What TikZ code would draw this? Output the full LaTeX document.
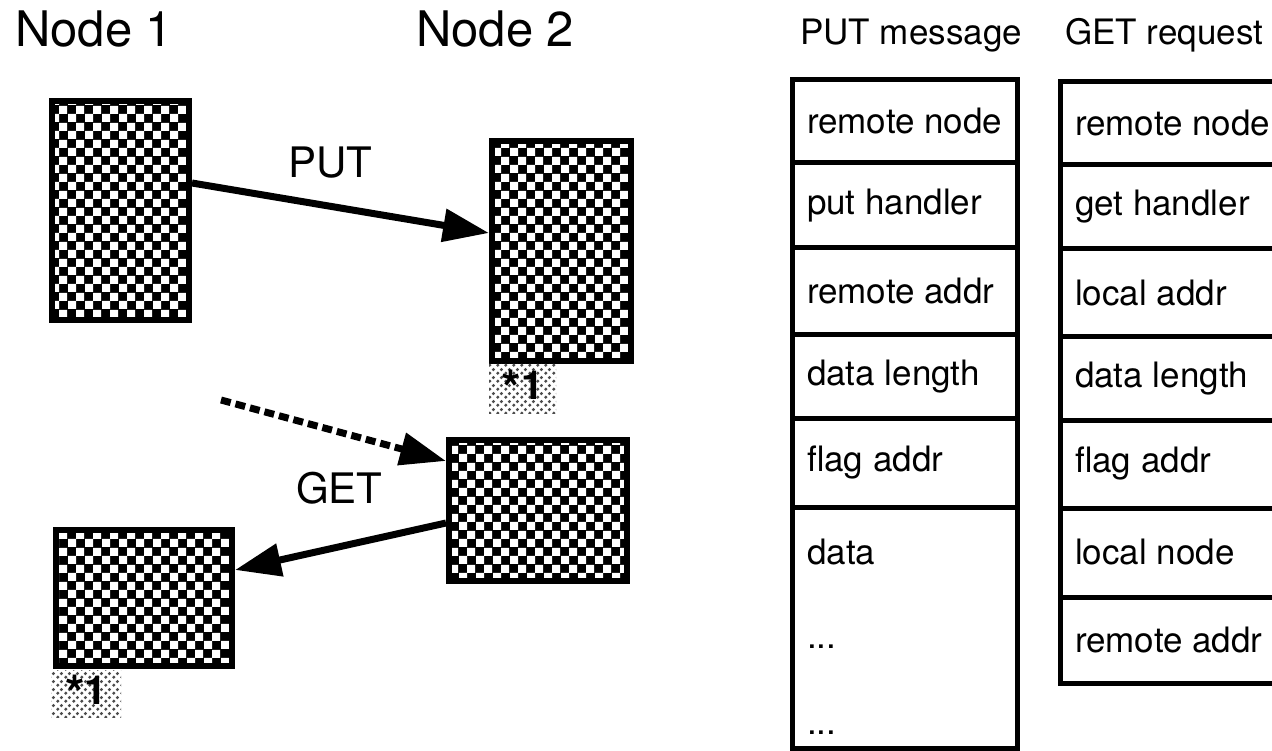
\documentclass[tikz,border=0pt]{standalone}
\usepackage{fontspec}
\setmainfont{TeX Gyre Heros}
\usetikzlibrary{arrows.meta,patterns}

% white squares on a black ground: a checkerboard screen
\pgfdeclarepatternformonly{checks}{\pgfqpoint{0pt}{0pt}}{\pgfqpoint{17pt}{17pt}}{\pgfqpoint{17pt}{17pt}}{%
  \pgfpathrectangle{\pgfqpoint{0pt}{0pt}}{\pgfqpoint{8.5pt}{8.5pt}}%
  \pgfpathrectangle{\pgfqpoint{8.5pt}{8.5pt}}{\pgfqpoint{8.5pt}{8.5pt}}%
  \pgfusepath{fill}}
% sparse halftone dots
\pgfdeclarepatternformonly{halftone}{\pgfqpoint{0pt}{0pt}}{\pgfqpoint{8pt}{8pt}}{\pgfqpoint{8pt}{8pt}}{%
  \pgfpathcircle{\pgfqpoint{2pt}{2pt}}{1.9pt}%
  \pgfpathcircle{\pgfqpoint{6pt}{6pt}}{1.9pt}%
  \pgfusepath{fill}}

\newcommand{\bigfont}{\fontsize{49}{54}\selectfont}
\newcommand{\lblfont}{\fontsize{42}{46}\selectfont}
\newcommand{\tabfont}{\fontsize{35}{40}\selectfont}
\newcommand{\cellbox}[1]{\makebox[195pt][l]{#1}}
\newcommand{\flagtext}{\raisebox{-7pt}{\fontsize{50}{50}\selectfont *}1}

\begin{document}
\begin{tikzpicture}[x=1pt,y=-1pt,
  memblock/.style={draw=black, line width=6pt, rectangle, anchor=north west,
    preaction={fill=black}, pattern=checks, pattern color=white, inner sep=0pt},
  mark1/.style={rectangle, anchor=north west, pattern=halftone, pattern color=black!70,
    inner sep=0pt, text=black, font=\fontsize{40}{44}\selectfont\bfseries},
  conn/.style={line width=7pt, -{Triangle[length=46pt,width=32pt]}},
  dashconn/.style={conn, dash pattern=on 10pt off 5pt},
  cell/.style={draw=black, line width=5pt, rectangle, anchor=north west,
    minimum height=#1, minimum width=225pt, inner xsep=15pt, inner ysep=0pt,
    outer sep=0pt, font=\tabfont},
  celltext/.style={anchor=west, inner xsep=15pt, inner ysep=0pt, font=\tabfont},
  title/.style={anchor=base west, inner sep=0pt}]

\useasboundingbox (0,0) rectangle (1272,751);
\fill[white] (0,0) rectangle (1272,751);
\clip (0,0) rectangle (1272,751);

% node titles
\node[title, font=\bigfont] (n1) at (15,47) {Node 1};
\node[title, font=\bigfont] (n2) at (416,47) {Node 2};

% memory blocks
\node[memblock, minimum width=137pt, minimum height=219pt] (A) at (49,98) {};
\node[memblock, minimum width=139pt, minimum height=220pt] (B) at (489,138) {};
\node[memblock, minimum width=178pt, minimum height=141pt] (C) at (446,437) {};
\node[memblock, minimum width=176pt, minimum height=136pt] (D) at (53,527) {};

% completion flags
\node[mark1, minimum width=67pt, minimum height=50pt] (fB) at (489,363) {\flagtext};
\node[mark1, minimum width=70pt, minimum height=47pt] (fD) at (51,670) {\flagtext};

% PUT transfer
\draw[conn] ([yshift=27.5pt]A.east) -- ([yshift=18pt]B.west);
\node[title, font=\lblfont] (put) at (288,178) {PUT};

% GET request and reply
\coordinate (req) at (221,400);
\draw[dashconn] (req) -- ([yshift=49.5pt]C.west);
\draw[conn] ([yshift=-12.5pt]C.west) -- ([yshift=28pt]D.east);
\node[title, font=\lblfont] (get) at (296,503) {GET};

% PUT message layout
\node[title, font=\tabfont] (hput) at (800,45) {PUT message};
\node[cell=83pt] (p1) at (792,80) {\cellbox{remote node}};
\node[cell=85pt] (p2) at (p1.south west) {\cellbox{put handler}};
\node[cell=87pt] (p3) at (p2.south west) {\cellbox{remote addr}};
\node[cell=83pt] (p4) at (p3.south west) {\cellbox{data length}};
\node[cell=89pt] (p5) at (p4.south west) {\cellbox{flag addr}};
\node[cell=241pt] (p6) at (p5.south west) {};
\node[celltext] (p6a) at ([yshift=-45pt]p6.north west) {data};
\node[celltext] (p6b) at ([yshift=-140pt]p6.north west) {...};
\node[celltext] (p6c) at ([yshift=-226pt]p6.north west) {...};

% GET request layout
\node[title, font=\tabfont] (hget) at (1065,45) {GET request};
\node[cell=83pt] (g1) at (1060,82) {\cellbox{remote node}};
\node[cell=84pt] (g2) at (g1.south west) {\cellbox{get handler}};
\node[cell=88pt] (g3) at (g2.south west) {\cellbox{local addr}};
\node[cell=83pt] (g4) at (g3.south west) {\cellbox{data length}};
\node[cell=88pt] (g5) at (g4.south west) {\cellbox{flag addr}};
\node[cell=89pt] (g6) at (g5.south west) {\cellbox{local node}};
\node[cell=86pt] (g7) at (g6.south west) {\cellbox{remote addr}};

\end{tikzpicture}
\end{document}
